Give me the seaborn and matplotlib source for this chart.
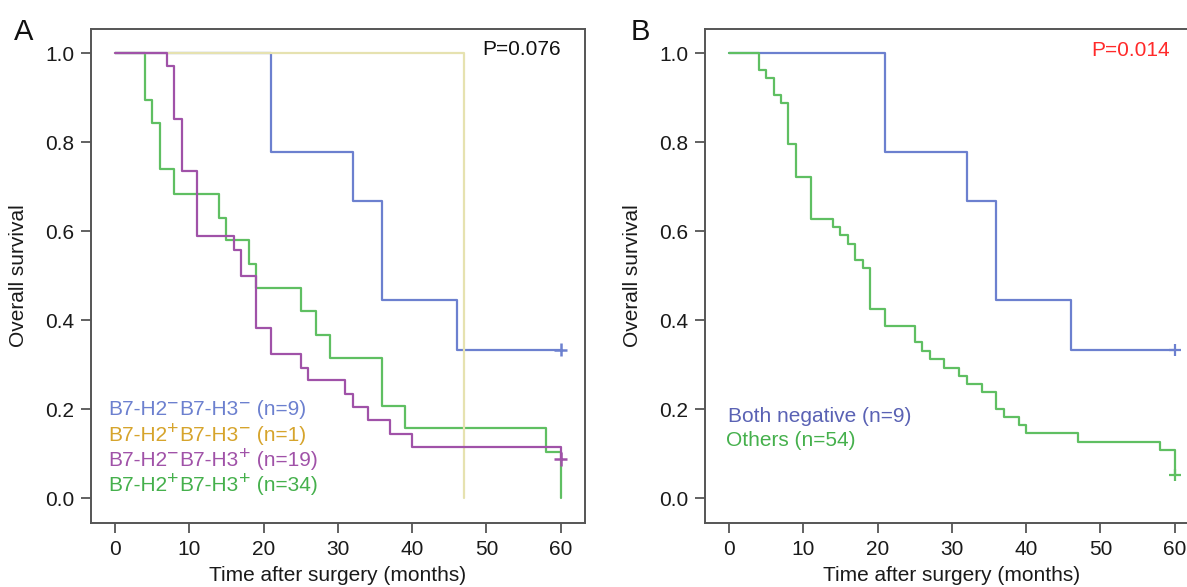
import matplotlib
matplotlib.use("Agg")
import matplotlib.pyplot as plt
import matplotlib.transforms as mtransforms
import seaborn as sns
import numpy as np
import pandas as pd

# ---------------- data ----------------
# Panel A
a_neg_neg_t = [0, 21, 32, 36, 46, 60]
a_neg_neg_s = [1.0, 0.778, 0.667, 0.444, 0.333, 0.333]
a_pos_neg_t = [0, 47]
a_pos_neg_s = [1.0, 0.0]
a_neg_pos_t = [0, 7, 8, 9, 11, 16, 17, 19, 21, 25, 26, 31, 32, 34, 37, 40, 60]
a_neg_pos_s = [1.0, 0.970, 0.852, 0.735, 0.588, 0.557, 0.499, 0.382, 0.323,
               0.293, 0.265, 0.234, 0.205, 0.176, 0.145, 0.115, 0.088]
a_pos_pos_t = [0, 4, 5, 6, 8, 14, 15, 18, 19, 25, 27, 29, 36, 39, 58, 60]
a_pos_pos_s = [1.0, 0.894, 0.842, 0.739, 0.683, 0.630, 0.579, 0.526, 0.471,
               0.420, 0.366, 0.315, 0.208, 0.157, 0.104, 0.0]
a_censor_t = [60, 60]
a_censor_s = [0.333, 0.088]
# legend labels as (text, superscript) pieces
a_labels = [[("B7-H2", "\u2212"), ("B7-H3", "\u2212"), (" (n=9)", "")],
            [("B7-H2", "+"), ("B7-H3", "\u2212"), (" (n=1)", "")],
            [("B7-H2", "\u2212"), ("B7-H3", "+"), (" (n=19)", "")],
            [("B7-H2", "+"), ("B7-H3", "+"), (" (n=34)", "")]]
a_pvalue = "P=0.076"

# Panel B
b_neg_t = [0, 21, 32, 36, 46, 60]
b_neg_s = [1.0, 0.778, 0.667, 0.444, 0.333, 0.333]
b_oth_t = [0, 4, 5, 6, 7, 8, 9, 11, 14, 15, 16, 17, 18, 19, 21, 25, 26, 27, 29,
           31, 32, 34, 36, 37, 39, 40, 47, 58, 60]
b_oth_s = [1.0, 0.962, 0.943, 0.906, 0.888, 0.795, 0.722, 0.627, 0.610, 0.591,
           0.572, 0.535, 0.518, 0.425, 0.387, 0.351, 0.331, 0.312, 0.293, 0.275,
           0.257, 0.238, 0.201, 0.183, 0.165, 0.146, 0.127, 0.109, 0.052]
b_censor_t = [60, 60]
b_censor_s = [0.333, 0.052]
b_labels = ["Both negative (n=9)", "Others (n=54)"]
b_pvalue = "P=0.014"

x_ticks = [0, 10, 20, 30, 40, 50, 60]
y_ticks = [0.0, 0.2, 0.4, 0.6, 0.8, 1.0]

# ---------------- style ----------------
sns.set_style("ticks")
plt.rcParams['font.family'] = ['Liberation Sans', 'DejaVu Sans']

BLUE = "#6c80cf"
YEL_LINE = "#e6e2b0"
YEL_TXT = "#d6a42c"
PURPLE = "#a052a8"
GREEN = "#5fbf62"
GREEN_TXT = "#45b04c"
BLUE_B_TXT = "#5a62b4"
SPINE = "#555555"

W, H = 1187, 587
DPI = 100
fig = plt.figure(figsize=(W / DPI, H / DPI), dpi=DPI)
ax_w = (585 - 91) / W
ax_h = (523 - 29) / H
axA = fig.add_axes([91 / W, 1 - 523 / H, ax_w, ax_h])
axB = fig.add_axes([705 / W, 1 - 523 / H, ax_w, ax_h])
renderer = fig.canvas.get_renderer()


def km(ax, t, s, color, z):
    df = pd.DataFrame({"t": t, "s": s})
    sns.lineplot(data=df, x="t", y="s", ax=ax, color=color, estimator=None,
                 sort=False, drawstyle="steps-post", linewidth=1.6, zorder=z)


def style(ax):
    ax.set_xlim(-3.23, 63.26)
    ax.set_ylim(-0.056, 1.054)
    ax.set_xticks(x_ticks)
    ax.set_xticklabels([str(v) for v in x_ticks])
    ax.set_yticks(y_ticks)
    ax.set_yticklabels([f"{v:.1f}" for v in y_ticks])
    ax.tick_params(axis="both", direction="out", length=7, width=1.3,
                   color=SPINE, labelsize=15, labelcolor="#1a1a1a", pad=5)
    for sp in ax.spines.values():
        sp.set_visible(True)
        sp.set_color(SPINE)
        sp.set_linewidth(1.4)
    ax.set_xlabel("Time after surgery (months)", fontsize=15, color="#1a1a1a",
                  labelpad=5)
    ax.set_ylabel("Overall survival", fontsize=15, color="#1a1a1a", labelpad=12)


def rich_text(ax, x, y, pieces, color, size=15, sup_size=14, rise=5.0):
    dx = 0.0
    for base, sup in pieces:
        for s, fs, dy in ((base, size, 0.0), (sup, sup_size, rise)):
            if not s:
                continue
            tr = mtransforms.offset_copy(ax.transData, fig=fig, x=dx, y=dy,
                                         units="points")
            txt = ax.text(x, y, s, transform=tr, fontsize=fs, color=color,
                          ha="left", va="baseline")
            wpx = txt.get_window_extent(renderer).width
            dx += wpx * 72.0 / DPI + 0.3


# Panel A
km(axA, a_neg_neg_t, a_neg_neg_s, BLUE, 2)
km(axA, a_pos_pos_t, a_pos_pos_s, GREEN, 3)
km(axA, a_pos_neg_t, a_pos_neg_s, YEL_LINE, 4)
km(axA, a_neg_pos_t, a_neg_pos_s, PURPLE, 5)
sns.scatterplot(x=a_censor_t, y=a_censor_s, ax=axA, marker="+", s=90,
                hue=[0, 1], palette=[BLUE, PURPLE], legend=False,
                linewidth=1.8, zorder=6)
style(axA)
for pieces, col, yy in zip(a_labels, [BLUE, YEL_TXT, PURPLE, GREEN_TXT],
                           [0.186, 0.129, 0.072, 0.015]):
    rich_text(axA, -0.95, yy, pieces, col)
axA.text(60, 1.008, a_pvalue, color="#111111", fontsize=15, ha="right",
         va="center")

# Panel B
km(axB, b_neg_t, b_neg_s, BLUE, 2)
km(axB, b_oth_t, b_oth_s, GREEN, 3)
sns.scatterplot(x=b_censor_t, y=b_censor_s, ax=axB, marker="+", s=80,
                hue=[0, 1], palette=[BLUE, GREEN], legend=False,
                linewidth=1.6, zorder=6)
style(axB)
axB.text(-0.1, 0.184, b_labels[0], color=BLUE_B_TXT, fontsize=15,
         va="center", ha="left")
axB.text(-0.35, 0.130, b_labels[1], color=GREEN_TXT, fontsize=15,
         va="center", ha="left")
axB.text(59.4, 1.005, b_pvalue, color="#ff2a2a", fontsize=15, ha="right",
         va="center")

fig.text(24 / W, 1 - 32 / H, "A", fontsize=21, ha="center", va="center",
         color="#111111")
fig.text(640 / W, 1 - 32 / H, "B", fontsize=21, ha="center", va="center",
         color="#111111")

fig.savefig("out.png", dpi=DPI)
